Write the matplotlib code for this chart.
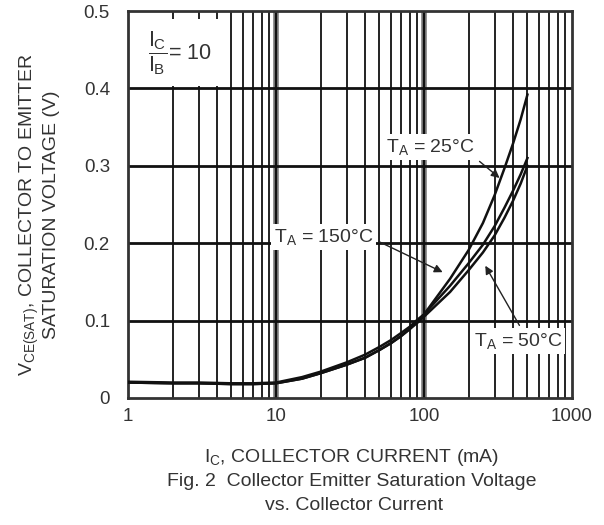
import numpy as np
import matplotlib
matplotlib.use('Agg')
import matplotlib.pyplot as plt

plt.rcParams['font.family'] = ['Liberation Sans', 'DejaVu Sans']
plt.rcParams['mathtext.fontset'] = 'custom'
plt.rcParams['mathtext.rm'] = 'Liberation Sans'
plt.rcParams['mathtext.it'] = 'Liberation Sans'

# collector current (mA)
ic = [1, 2, 3, 5, 7, 10, 15, 20, 30, 40, 50, 60, 70, 80, 90,
      100, 150, 200, 250, 300, 350, 400, 450, 500]
# VCE(sat) in volts
v_25 = [0.020, 0.019, 0.019, 0.018, 0.018, 0.019, 0.025, 0.032, 0.043, 0.052, 0.062, 0.071, 0.080, 0.089, 0.099,
        0.108, 0.154, 0.191, 0.226, 0.262, 0.297, 0.329, 0.360, 0.392]
v_150 = [0.021, 0.020, 0.020, 0.019, 0.019, 0.020, 0.027, 0.034, 0.046, 0.056, 0.066, 0.075, 0.084, 0.092, 0.101,
         0.108, 0.145, 0.174, 0.198, 0.222, 0.246, 0.268, 0.289, 0.310]
v_m50 = [0.020, 0.019, 0.019, 0.018, 0.018, 0.019, 0.025, 0.032, 0.043, 0.052, 0.062, 0.071, 0.080, 0.089, 0.097,
         0.105, 0.137, 0.165, 0.188, 0.210, 0.233, 0.255, 0.277, 0.300]

x_ticks = [1, 10, 100, 1000]
x_labels = ['1', '10', '100', '1000']
y_ticks = [0, 0.1, 0.2, 0.3, 0.4, 0.5]
y_labels = ['0', '0.1', '0.2', '0.3', '0.4', '0.5']

fig = plt.figure(figsize=(6.04, 5.25), dpi=100)
ax = fig.add_axes([128/604, 1-398/525, 444/604, 387/525])
ax.set_xscale('log')
ax.set_xlim(1, 1000)
ax.set_ylim(0, 0.5)

# grid, drawn by hand so decades can be heavier
for dec in [1, 10, 100]:
    for m in range(2, 10):
        ax.axvline(dec*m, color='#222222', lw=1.4, zorder=1)
for d in [10, 100]:
    ax.axvline(d, color='#777777', lw=4, zorder=1)
    ax.axvline(d, color='#111111', lw=1.5, zorder=1)
for yv in [0.1, 0.2, 0.3, 0.4]:
    ax.axhline(yv, color='#111111', lw=2, zorder=1)

ax.plot(ic, v_25, color='#111111', lw=1.8, zorder=3)
ax.plot(ic, v_150, color='#111111', lw=1.8, zorder=3)
ax.plot(ic, v_m50, color='#111111', lw=1.8, zorder=3)

for s in ax.spines.values():
    s.set_linewidth(2)
    s.set_color('#333333')

ax.set_xticks(x_ticks)
ax.set_xticklabels(x_labels)
ax.set_xticks([], minor=True)
ax.set_yticks(y_ticks)
ax.set_yticklabels(y_labels)
ax.tick_params(axis='both', length=0, labelsize=13.5, colors='#333333')
ax.tick_params(axis='y', pad=13)
ax.tick_params(axis='x', pad=7)

ax.text(1.36, 0.446, r'$\dfrac{I_C}{I_B}$= 10', fontsize=15.5, color='#333333',
        ha='left', va='center', zorder=4,
        bbox=dict(boxstyle='square,pad=0.45', fc='white', ec='none'))

box = dict(boxstyle='square,pad=0.15', fc='white', ec='none')
ax.annotate(r'T$_\mathregular{A}$ = 25°C', xy=(335, 0.282), xytext=(110, 0.324),
            fontsize=14, color='#333333', ha='center', va='center', bbox=box,
            arrowprops=dict(arrowstyle='-|>', color='#222222', lw=1,
                            mutation_scale=12, relpos=(1, 0)), zorder=4)
ax.annotate(r'T$_\mathregular{A}$ = 150°C', xy=(139, 0.161), xytext=(21, 0.208),
            fontsize=14, color='#333333', ha='center', va='center', bbox=box,
            arrowprops=dict(arrowstyle='-|>', color='#222222', lw=1,
                            mutation_scale=12, relpos=(1, 0.4)), zorder=4)
ax.annotate(r'T$_\mathregular{A}$ = 50°C', xy=(254, 0.174), xytext=(432, 0.074),
            fontsize=14, color='#333333', ha='center', va='center', bbox=box,
            arrowprops=dict(arrowstyle='-|>', color='#222222', lw=1,
                            mutation_scale=12, relpos=(0.55, 1)), zorder=4)

fig.text(352/604, 1-458/525, r'I$_\mathregular{C}$, COLLECTOR CURRENT (mA)',
         fontsize=14, color='#333333', ha='center', va='center')
fig.text(352/604, 1-482/525, 'Fig. 2  Collector Emitter Saturation Voltage',
         fontsize=14, color='#333333', ha='center', va='center')
fig.text(354/604, 1-506/525, 'vs. Collector Current',
         fontsize=14, color='#333333', ha='center', va='center')
fig.text(39/604, 1-215/525,
         'V$_\\mathregular{CE(SAT)}$, COLLECTOR TO EMITTER\nSATURATION VOLTAGE (V)',
         fontsize=14, color='#333333', ha='center', va='center',
         rotation=90, linespacing=1.1)

fig.savefig('out.png', dpi=100)
